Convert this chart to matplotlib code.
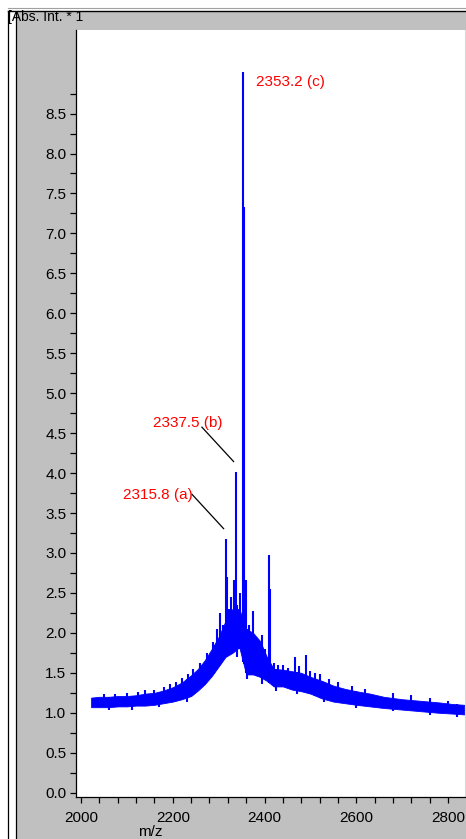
import numpy as np
import matplotlib
matplotlib.use('Agg')
import matplotlib.pyplot as plt
from matplotlib.patches import Rectangle
from matplotlib.lines import Line2D

plt.rcParams['font.family'] = ['Liberation Sans', 'DejaVu Sans']

# Noise band of the spectrum (m/z, lower and upper edge of the trace)
band_mz = [2022, 2040, 2060, 2080, 2100, 2120, 2140, 2160, 2180, 2200, 2220, 2240,
           2255, 2270, 2285, 2300, 2315, 2330, 2345, 2360, 2375, 2390, 2405, 2420,
           2440, 2460, 2480, 2500, 2525, 2550, 2575, 2600, 2630, 2660, 2700, 2740,
           2780, 2810, 2835]
band_lo = [1.07, 1.07, 1.07, 1.08, 1.08, 1.09, 1.09, 1.10, 1.12, 1.14, 1.17, 1.21,
           1.28, 1.36, 1.46, 1.58, 1.70, 1.75, 1.82, 1.48, 1.48, 1.45, 1.40, 1.33,
           1.33, 1.29, 1.27, 1.24, 1.18, 1.14, 1.12, 1.10, 1.08, 1.06, 1.04, 1.02,
           1.00, 0.99, 0.98]
band_hi = [1.19, 1.20, 1.20, 1.21, 1.21, 1.22, 1.24, 1.25, 1.28, 1.32, 1.38, 1.47,
           1.55, 1.66, 1.80, 1.95, 2.15, 2.30, 2.30, 2.05, 2.00, 1.90, 1.70, 1.55,
           1.54, 1.52, 1.50, 1.45, 1.40, 1.34, 1.30, 1.27, 1.24, 1.20, 1.17, 1.15,
           1.13, 1.11, 1.10]

# Spikes sticking up out of the band
spike_mz = [2050, 2075, 2100, 2125, 2139, 2160, 2180, 2195, 2208, 2220, 2233, 2245,
            2260, 2275, 2288, 2296, 2303, 2310, 2318.5, 2322, 2326, 2334, 2341, 2346,
            2354.5, 2359, 2366, 2375, 2383, 2394, 2400, 2412, 2420, 2430, 2440, 2452,
            2466, 2475, 2490, 2500, 2510, 2521, 2540, 2560, 2590, 2620, 2680, 2720,
            2760, 2800]
spike_h = [1.23, 1.24, 1.25, 1.26, 1.28, 1.29, 1.32, 1.36, 1.39, 1.44, 1.48, 1.55,
           1.62, 1.75, 1.88, 2.05, 2.25, 2.10, 2.70, 2.30, 2.45, 2.66, 2.35, 2.50,
           7.33, 2.66, 2.10, 2.27, 1.90, 1.97, 1.80, 2.55, 1.62, 1.60, 1.60, 1.56,
           1.70, 1.58, 1.72, 1.52, 1.50, 1.49, 1.42, 1.38, 1.34, 1.30, 1.25, 1.22,
           1.18, 1.15]

# Dips reaching below the band
dip_mz = [2060, 2110, 2170, 2230, 2290, 2340, 2362, 2395, 2425, 2470, 2530, 2600,
          2680, 2760, 2820]
dip_lo = [1.03, 1.04, 1.07, 1.14, 1.48, 1.70, 1.42, 1.36, 1.27, 1.24, 1.14, 1.06,
          1.02, 0.97, 0.95]

# Labelled peaks
peak_mz = [2315.8, 2337.5, 2353.2]
peak_h = [3.18, 4.02, 9.02]
peak_tag = ['a', 'b', 'c']
other_mz = [2410]
other_h = [2.97]

W, H = 466, 839
fig = plt.figure(figsize=(W / 100, H / 100), dpi=100)
fig.patch.set_facecolor('white')

# grey window frame
fig.add_artist(Rectangle((16 / W, 0), 1 - 16 / W, 1 - 12 / H, transform=fig.transFigure,
                         facecolor='#c0c0c0', edgecolor='none', zorder=-5))
fig.add_artist(Line2D([8 / W, 8 / W], [0, 1 - 10.5 / H], color='black', lw=0.9))
fig.add_artist(Line2D([16 / W, 16 / W], [0, 1 - 12 / H], color='black', lw=0.9))
fig.add_artist(Line2D([8 / W, 1], [1 - 11 / H, 1 - 11 / H], color='black', lw=1.0))
fig.add_artist(Line2D([8 / W, 1], [1 - 8 / H, 1 - 8 / H], color='#a0a0a0', lw=0.8))

ax = fig.add_axes([76 / W, 42 / H, (465 - 76) / W, (797 - 30) / H])
ax.set_facecolor('white')

blue = '#0000ff'
ax.fill_between(band_mz, band_lo, band_hi, color=blue, lw=0.6)

all_mz = spike_mz + other_mz + peak_mz
all_h = spike_h + other_h + peak_h
base = np.interp(all_mz, band_mz, band_lo)
ax.vlines(all_mz, base, all_h, color=blue, lw=1.5)
top = np.interp(dip_mz, band_mz, band_hi)
ax.vlines(dip_mz, dip_lo, top, color=blue, lw=1.5)

# peak annotations
text_off = {'a': (-225, 0.50), 'b': (-180, 0.56), 'c': (27.4, -0.18)}
for mz, h, tag in zip(peak_mz, peak_h, peak_tag):
    dx, dy = text_off[tag]
    ax.text(mz + dx, h + dy, f'{mz:.1f} ({tag})', color='red', fontsize=11,
            ha='left', va='baseline')
    if tag != 'c':
        ax.plot([mz - 74, mz - 5], [h + 0.555, h + 0.125], color='black', lw=0.9)

ax.set_xlim(1989, 2837)
ax.set_ylim(-0.054, 9.546)
ax.set_xticks(np.arange(2000, 2801, 200))
ax.set_xticks(np.arange(2040, 2837, 40), minor=True)
ax.set_yticks(np.arange(0, 8.51, 0.5))
ax.set_yticks(np.arange(0.25, 8.8, 0.5), minor=True)
ax.yaxis.set_major_formatter(matplotlib.ticker.FormatStrFormatter('%.1f'))
ax.tick_params(axis='both', which='both', direction='out', length=4, width=0.9,
               labelsize=11, color='black')
ax.tick_params(axis='x', pad=6)
ax.tick_params(axis='y', pad=3)

ax.spines['top'].set_visible(False)
ax.spines['right'].set_color('#d8d8d8')
ax.spines['left'].set_linewidth(0.9)
ax.spines['bottom'].set_linewidth(0.9)

fig.text(150 / W, 3 / H, 'm/z', fontsize=11, ha='center', va='baseline')
fig.text(8 / W, 1 - 21.5 / H, '[Abs. Int. * 1', fontsize=10, ha='left', va='baseline')

fig.savefig('out.png', dpi=100)
